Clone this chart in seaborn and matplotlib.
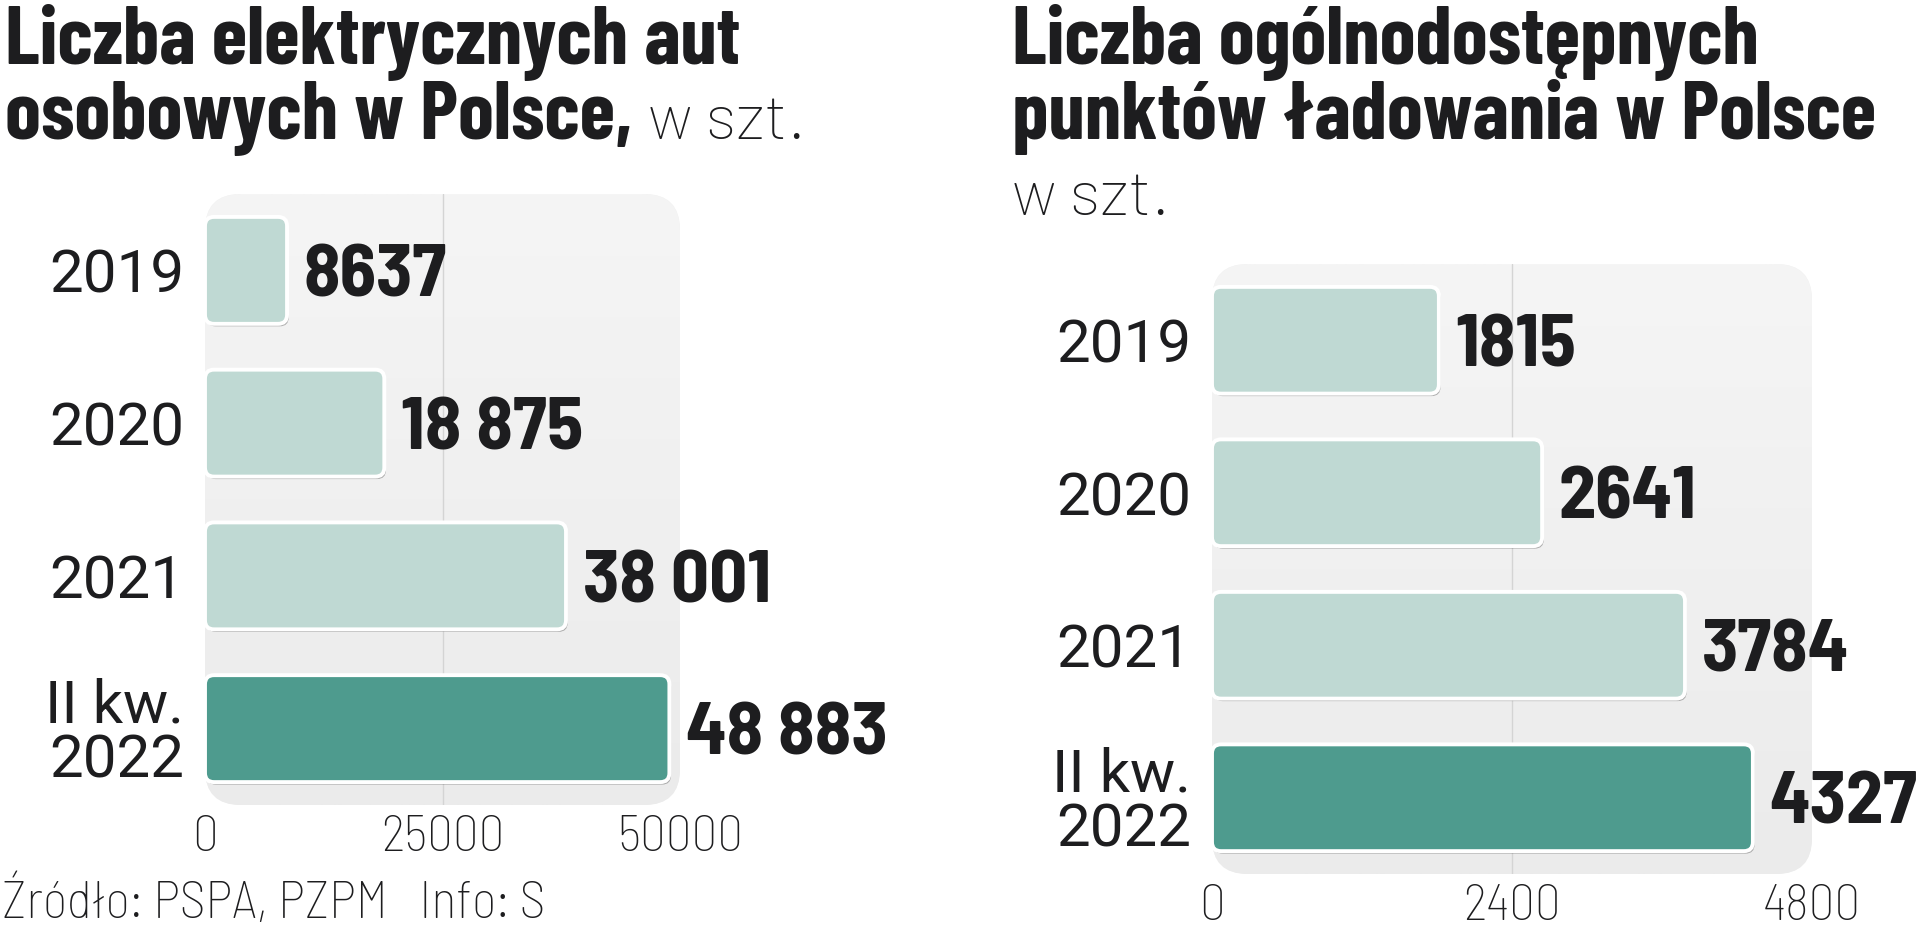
import matplotlib
matplotlib.use("Agg")
import matplotlib.pyplot as plt
import matplotlib.patheffects as pe
from matplotlib.patches import FancyBboxPatch
from matplotlib.colors import LinearSegmentedColormap
import numpy as np
import pandas as pd
import seaborn as sns

# ---------------- data ----------------
categories = ["2019", "2020", "2021", "II kw.\n2022"]
cars = [8637, 18875, 38001, 48883]
chargers = [1815, 2641, 3784, 4327]
cars_ticks = [0, 25000, 50000]
chargers_ticks = [0, 2400, 4800]
title_left = ["Liczba elektrycznych aut", "osobowych w Polsce,"]
unit = "w szt."
title_right = ["Liczba ogólnodostępnych", "punktów ładowania w Polsce"]
source = "Źródło: PSPA, PZPM   Info: S"

LIGHT = "#BFD9D3"
DARK = "#4E9B8E"
INK = "#1d1d1f"
palette = {c: (DARK if i == len(categories) - 1 else LIGHT) for i, c in enumerate(categories)}

sns.set_theme(style="white")
plt.rcParams["font.family"] = ["Roboto", "DejaVu Sans"]

TITLEF = ["Barlow Condensed", "DejaVu Sans"]
BOLD = ["Barlow Semi Condensed", "DejaVu Sans"]
LIGHTF = ["Barlow", "DejaVu Sans"]
COND_LIGHT = ["Barlow Semi Condensed", "DejaVu Sans"]

W, H = 1920, 931
fig = plt.figure(figsize=(19.2, 9.31), dpi=100)
fig.patch.set_facecolor("white")
renderer = fig.canvas.get_renderer()


def px_axes(l, t, r, b):
    return fig.add_axes([l / W, 1 - b / H, (r - l) / W, (b - t) / H])


def fitted_size(s, target_px, **kw):
    t = fig.text(0, 0, s, fontsize=40, **kw)
    w = t.get_window_extent(renderer).width
    t.remove()
    return 40 * target_px / w


def fmt(v):
    return f"{v:,}".replace(",", " ") if v >= 10000 else str(v)


value_fs = fitted_size("8637", 143, family=BOLD, fontweight="bold")
year_fs = fitted_size("2019", 135, family=["Roboto", "DejaVu Sans"])
tick_fs = fitted_size("25000", 123, family=COND_LIGHT, fontweight="light")
title_fs = fitted_size(title_left[0], 736, family=TITLEF, fontweight=700)
unit_fs = fitted_size(unit, 158, family=LIGHTF, fontweight="light")
source_fs = fitted_size(source, 543, family=COND_LIGHT, fontweight="light")

bg_cmap = LinearSegmentedColormap.from_list("bg", ["#f5f5f5", "#ebebeb"])


def panel(ax, values, ticks):
    df = pd.DataFrame({"kategoria": categories, "liczba": values})
    sns.barplot(data=df, x="liczba", y="kategoria", hue="kategoria", palette=palette,
                orient="h", width=0.7, legend=False, saturation=1, ax=ax)
    ax.set_facecolor("none")
    for s in ax.spines.values():
        s.set_visible(False)
    ax.set_xlabel("")
    ax.set_ylabel("")

    bb = ax.get_window_extent(renderer)
    aw, ah = bb.width, bb.height

    # rounded grey background with soft vertical gradient
    bg = FancyBboxPatch((0, 0), 1, 1, boxstyle=f"round,pad=0,rounding_size={36 / aw}",
                        mutation_aspect=aw / ah, transform=ax.transAxes,
                        facecolor="#efefef", edgecolor="none", zorder=-2)
    ax.add_patch(bg)
    grad = np.linspace(0, 1, 256).reshape(-1, 1)
    im = ax.imshow(grad, extent=[0, 1, 0, 1], transform=ax.transAxes, cmap=bg_cmap,
                   aspect="auto", origin="upper", zorder=-1)
    im.set_clip_path(bg)

    ax.set_xlim(ticks[0], ticks[-1])
    ax.set_ylim(len(categories) - 0.5, -0.5)
    ax.axvline(ticks[1], color="#d4d4d4", lw=1.0, zorder=0)

    xpp = (ticks[-1] - ticks[0]) / aw
    ypp = len(categories) / ah
    bars = [p for p in ax.patches if p is not bg and p.get_width() > 0]
    for p in bars:
        p.set_visible(False)
        rb = FancyBboxPatch((p.get_x(), p.get_y()), p.get_width(), p.get_height(),
                            boxstyle=f"round,pad=0,rounding_size={9 * xpp}",
                            mutation_aspect=ypp / xpp, facecolor=p.get_facecolor(),
                            edgecolor="white", lw=2.8, zorder=2,
                            path_effects=[pe.SimplePatchShadow(offset=(1.2, -1.8), shadow_rgbFace="black", alpha=0.28),
                                          pe.Normal()])
        ax.add_patch(rb)

    for i, v in enumerate(values):
        ax.annotate(fmt(v), xy=(v, i), xytext=(12, -0.35 * value_fs), textcoords="offset points",
                    ha="left", va="baseline", fontsize=value_fs, fontweight="bold",
                    family=BOLD, color=INK, annotation_clip=False, zorder=3)

    ax.set_xticks(ticks)
    ax.set_xticklabels([str(t) for t in ticks])
    ax.tick_params(axis="both", length=0)
    ax.tick_params(axis="x", pad=7)
    ax.tick_params(axis="y", pad=15)
    for lab in ax.get_xticklabels():
        lab.set_fontsize(tick_fs)
        lab.set_family(COND_LIGHT)
        lab.set_fontweight("light")
        lab.set_color(INK)
    for lab in ax.get_yticklabels():
        lab.set_fontsize(year_fs)
        lab.set_family(["Roboto", "DejaVu Sans"])
        lab.set_color(INK)
        lab.set_linespacing(0.95)


ax1 = px_axes(205, 194, 680, 805)
ax2 = px_axes(1212, 264, 1812, 874)
panel(ax1, cars, cars_ticks)
panel(ax2, chargers, chargers_ticks)


def ftext(x, ybase, s, **kw):
    return fig.text(x / W, 1 - ybase / H, s, va="baseline", ha="left", color=INK, **kw)


# left title
ftext(5, 64, title_left[0], fontsize=title_fs, fontweight=700, family=TITLEF)
t2 = ftext(5, 139, title_left[1], fontsize=title_fs, fontweight=700, family=TITLEF)
x_end = t2.get_window_extent(renderer).x1
ftext(x_end + 16, 139, unit, fontsize=unit_fs, fontweight="light", family=LIGHTF)

# right title
ftext(1012, 64, title_right[0], fontsize=title_fs, fontweight=700, family=TITLEF)
ftext(1012, 139, title_right[1], fontsize=title_fs, fontweight=700, family=TITLEF)
ftext(1012, 215, unit, fontsize=unit_fs, fontweight="light", family=LIGHTF)

# source
ftext(2, 918, source, fontsize=source_fs, fontweight="light", family=COND_LIGHT)

fig.savefig("out.png", dpi=100, facecolor="white")
